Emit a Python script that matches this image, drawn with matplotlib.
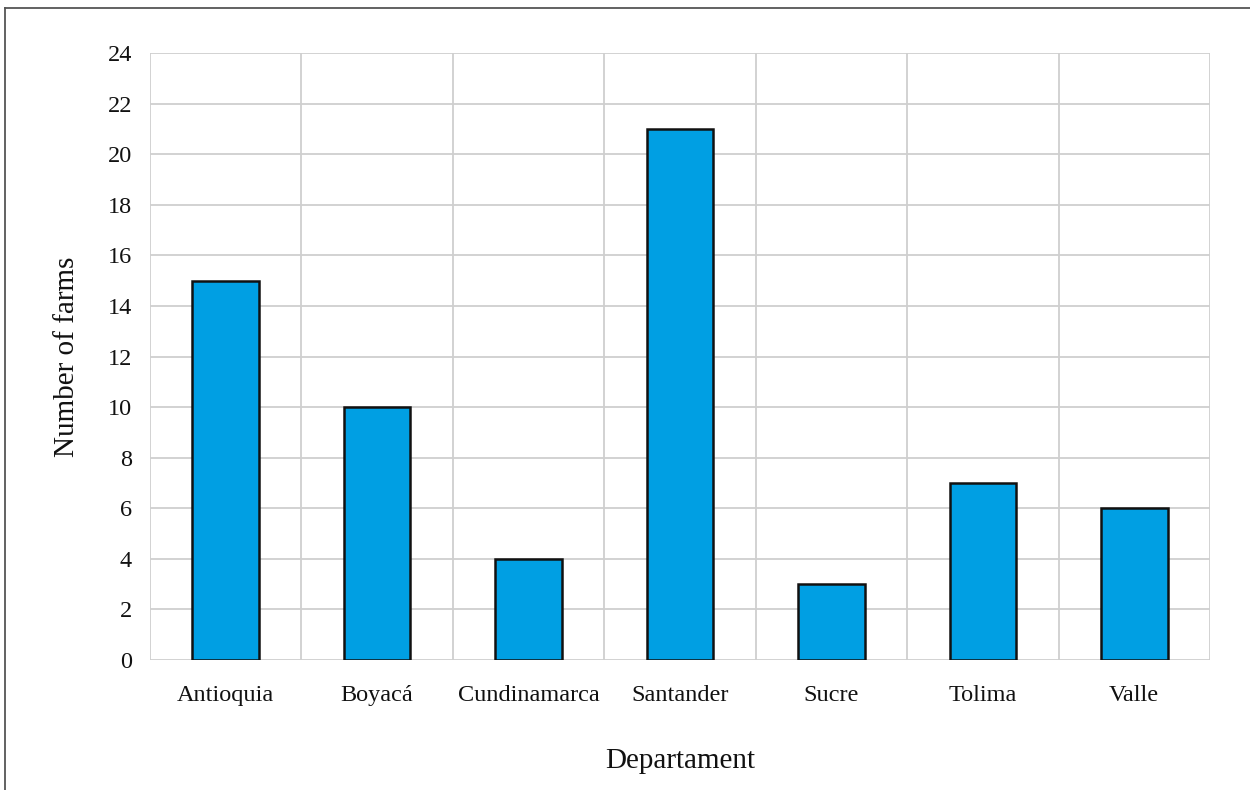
import numpy as np
import matplotlib
matplotlib.use("Agg")
import matplotlib.pyplot as plt
from matplotlib.lines import Line2D

# ── data ──────────────────────────────────────────────────────────────────────
departments = ["Antioquia", "Boyacá", "Cundinamarca", "Santander",
               "Sucre", "Tolima", "Valle"]
farms = [15, 10, 4, 21, 3, 7, 6]
y_ticks = list(range(0, 25, 2))

BAR = "#009FE3"
GRID = "#CFCFCF"
plt.rcParams["font.family"] = ["Liberation Serif", "DejaVu Serif"]

fig = plt.figure(figsize=(12.5, 7.9), dpi=100, facecolor="white")
ax = fig.add_axes([0.12, 0.1646, 0.848, 0.768])

x = np.arange(len(departments))
ax.bar(x, farms, width=0.44, color=BAR, edgecolor="#111111",
       linewidth=1.8, zorder=3)

ax.set_xlim(-0.5, len(departments) - 0.5)
ax.set_ylim(0, 24)
ax.set_yticks(y_ticks)
ax.set_xticks(x)
ax.set_xticklabels(departments)

# gridlines between categories, Excel style
for xb in np.arange(-0.5, len(departments), 1.0):
    ax.axvline(xb, color=GRID, linewidth=1.3, zorder=1)
for yv in y_ticks:
    ax.axhline(yv, color=GRID, linewidth=1.3, zorder=1)

for s in ax.spines.values():
    s.set_visible(False)
ax.tick_params(axis="both", length=0, labelsize=17.5, colors="#111111")
ax.tick_params(axis="x", pad=18)
ax.tick_params(axis="y", pad=13)

ax.set_xlabel("Departament", fontsize=21, labelpad=30, color="#111111")
ax.set_ylabel("Number of farms", fontsize=21, labelpad=20, color="#111111")

# outer frame: top and left edges
fig.add_artist(Line2D([0.004, 1.0], [0.99, 0.99], transform=fig.transFigure,
                      color="#555555", linewidth=1.3))
fig.add_artist(Line2D([0.004, 0.004], [0.0, 0.99], transform=fig.transFigure,
                      color="#555555", linewidth=1.3))

fig.savefig("out.png", dpi=100, facecolor="white")
